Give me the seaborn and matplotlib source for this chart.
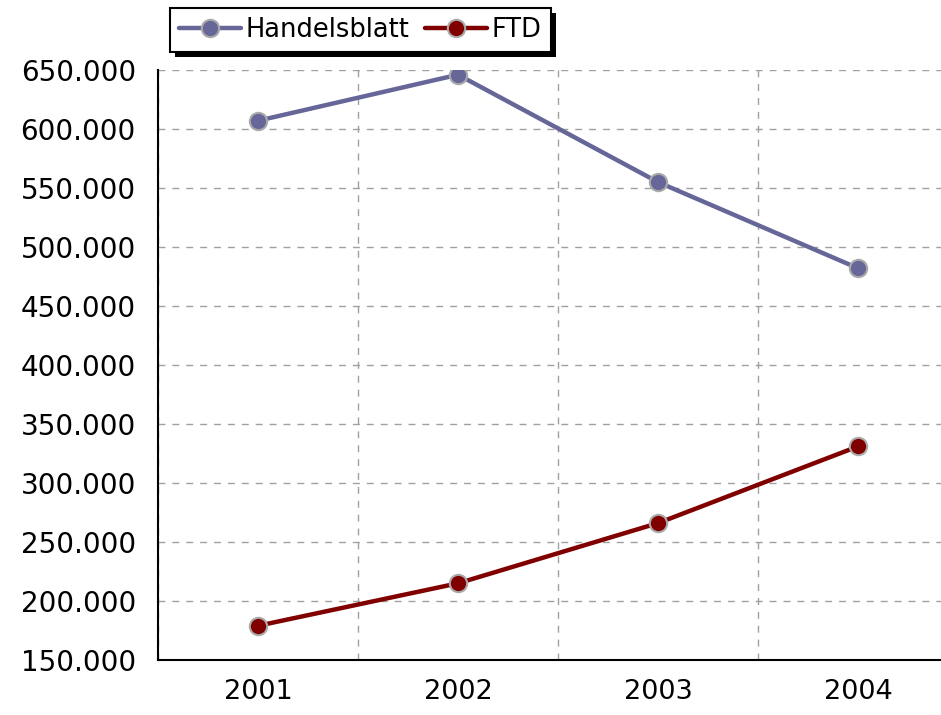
import matplotlib
matplotlib.use("Agg")
import matplotlib.pyplot as plt
import seaborn as sns
import pandas as pd
from matplotlib.ticker import FuncFormatter, FixedLocator
from matplotlib.patches import Rectangle

years = ["2001", "2002", "2003", "2004"]
handelsblatt = [607000, 646000, 555000, 482000]
ftd = [179000, 215000, 266000, 331000]
series_names = ["Handelsblatt", "FTD"]
colors = {"Handelsblatt": "#666699", "FTD": "#800000"}

df = pd.DataFrame({
    "pos": list(range(len(years))) * 2,
    "value": handelsblatt + ftd,
    "series": [series_names[0]] * len(years) + [series_names[1]] * len(years),
})

sns.set_style("white")
plt.rcParams["font.family"] = ["DejaVu Sans"]
plt.rcParams["text.color"] = "black"

fig = plt.figure(figsize=(9.41, 7.15), dpi=100)
ax = fig.add_axes([158 / 941, 1 - 660 / 715, 800 / 941, 590 / 715])

sns.lineplot(data=df, x="pos", y="value", hue="series", palette=colors,
             hue_order=series_names, marker="o", markersize=12.5,
             markeredgecolor="#aaaaaa", markeredgewidth=1.5, linewidth=3.2,
             ax=ax, zorder=3)

ax.set_xlim(-0.5, 3.5)
ax.set_ylim(150000, 650000)
ax.set_xlabel("")
ax.set_ylabel("")

ax.set_yticks(range(150000, 650001, 50000))
ax.yaxis.set_major_formatter(FuncFormatter(lambda v, p: f"{v:,.0f}".replace(",", ".")))
ax.set_xticks(range(len(years)))
ax.set_xticklabels(years)
ax.xaxis.set_minor_locator(FixedLocator([-0.5, 0.5, 1.5, 2.5, 3.5]))
ax.tick_params(axis="x", which="major", length=0, pad=14, labelsize=19.5, colors="black")
ax.tick_params(axis="x", which="minor", length=8, width=1.5, direction="out", color="black")
ax.tick_params(axis="y", which="major", length=8, width=1.5, direction="out", pad=8,
               labelsize=20, colors="black")

ax.grid(True, axis="y", which="major", color="#a0a0a0", linestyle=(0, (5, 5)), linewidth=1)
ax.grid(True, axis="x", which="minor", color="#a0a0a0", linestyle=(0, (5, 5)), linewidth=1)
ax.grid(False, axis="x", which="major")

for s in ["top", "right"]:
    ax.spines[s].set_visible(False)
for s in ["left", "bottom"]:
    ax.spines[s].set_color("black")
    ax.spines[s].set_linewidth(1.5)

leg = ax.legend(loc="upper left", bbox_to_anchor=(0.015, 1.105), borderaxespad=0,
                ncol=2, fontsize=18.5, frameon=True, fancybox=False, shadow=False,
                handlelength=2.4, handletextpad=0.2, columnspacing=0.6,
                borderpad=0.35)
leg.get_frame().set_edgecolor("black")
leg.get_frame().set_linewidth(1.5)
leg.get_frame().set_alpha(1)
for t in leg.get_texts():
    t.set_color("black")
leg.set_zorder(10)

fig.canvas.draw()
bb = leg.get_window_extent()
off = 5
shadow = Rectangle(((bb.x0 + off) / fig.bbox.width, (bb.y0 - off) / fig.bbox.height),
                   bb.width / fig.bbox.width, bb.height / fig.bbox.height,
                   transform=fig.transFigure, facecolor="black", edgecolor="none",
                   zorder=9, clip_on=False)
ax.add_artist(shadow)

fig.savefig("out.png", dpi=100)
